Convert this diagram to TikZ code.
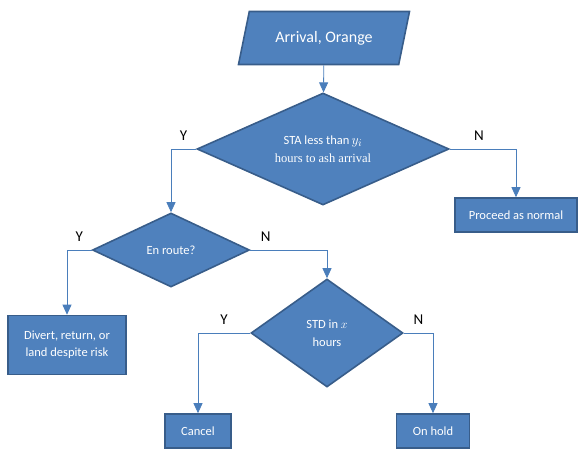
\documentclass[tikz,border=0pt]{standalone}
\usepackage{fontspec}
\setmainfont{Carlito}
\newfontfamily\eqfont{Liberation Serif}
\usepackage{xcolor}
\usepackage{tikz}
\usetikzlibrary{arrows.meta,shapes.geometric}

\definecolor{boxfill}{HTML}{4F81BD}
\definecolor{boxline}{HTML}{385D8A}
\definecolor{linkline}{HTML}{4A7EBB}

\begin{document}
\begin{tikzpicture}[
  x=1pt, y=-1pt,
  font=\fontsize{12.5}{15}\selectfont,
  block/.style={rectangle, draw=boxline, fill=boxfill, line width=1.6pt, text=white, inner sep=2pt, align=center},
  decision/.style={diamond, draw=boxline, fill=boxfill, line width=1.6pt, text=white, inner sep=0pt, align=center},
  io/.style={trapezium, trapezium left angle=78, trapezium right angle=102, trapezium stretches body, draw=boxline, fill=boxfill, line width=1.6pt, text=white, inner xsep=2pt, inner ysep=18.5pt},
  link/.style={-{Triangle[length=10pt, width=9pt]}, linkline, line width=0.8pt},
  answer/.style={font=\fontsize{15}{17}\selectfont, text=black, above=5pt}
]

% feste Bildgrenzen
\useasboundingbox (0,0) rectangle (582,450);

% Eingang
\node[io, minimum width=171pt, minimum height=53pt, font=\fontsize{16}{19}\selectfont] (arrival) at (324,38) {Arrival, Orange};

% Entscheidungen
\node[decision, aspect=2.25, minimum width=252pt, minimum height=112pt] (sta) at (323,149)
  {STA less than\,\scalebox{1.15}{$y_i$}\\[3pt]{\eqfont\fontsize{12.5}{15}\selectfont hours to ash arrival}};
\node[decision, aspect=2.1, minimum width=157pt, minimum height=74pt] (enroute) at (171,250) {En route?};
\node[decision, aspect=1.4, minimum width=152pt, minimum height=108pt] (std) at (327,333) {STD in $x$\\[3pt]hours};

% Ergebnisse
\node[block, minimum width=122pt, minimum height=34pt] (normal) at (516,215) {Proceed as normal};
\node[block, minimum width=118pt, minimum height=59pt] (divert) at (67,345) {Divert, return, or\\[2pt]land despite risk};
\node[block, minimum width=66pt, minimum height=34pt] (cancel) at (198,431) {Cancel};
\node[block, minimum width=73pt, minimum height=34pt] (hold) at (433,431) {On hold};

% Verbindungen
\draw[link] (arrival) -- (sta);
\draw[link] (sta.west) -| node[answer, pos=.25] (staY) {Y} (enroute.north);
\draw[link] (sta.east) -| node[answer, pos=.22] (staN) {N} (normal.north);
\draw[link] (enroute.west) -| node[answer, pos=.25] (enY) {Y} (divert.north);
\draw[link] (enroute.east) -| node[answer, pos=.1] (enN) {N} (std.north);
\draw[link] (std.west) -| node[answer, pos=.25] (stdY) {Y} (cancel.north);
\draw[link] (std.east) -| node[answer, pos=.25] (stdN) {N} (hold.north);

\end{tikzpicture}
\end{document}
